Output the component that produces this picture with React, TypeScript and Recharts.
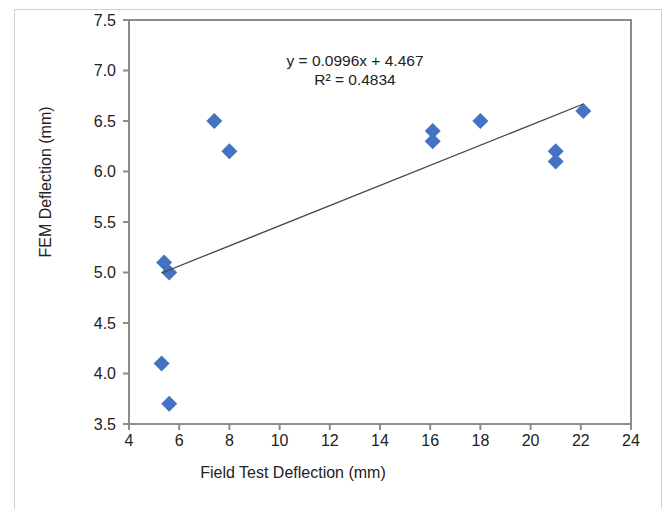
import { ScatterChart, Scatter, XAxis, YAxis, ReferenceArea } from 'recharts';

const fieldTest = [5.3, 5.6, 5.4, 5.6, 7.4, 8.0, 16.1, 16.1, 18.0, 21.0, 21.0, 22.1];
const femDeflection = [4.1, 3.7, 5.1, 5.0, 6.5, 6.2, 6.4, 6.3, 6.5, 6.2, 6.1, 6.6];
const xTicks = [4, 6, 8, 10, 12, 14, 16, 18, 20, 22, 24];
const yTicks = [3.5, 4.0, 4.5, 5.0, 5.5, 6.0, 6.5, 7.0, 7.5];
const slope = 0.0996;
const intercept = 4.467;
const trendFrom = 5.3;
const trendTo = 22.1;

const points = fieldTest.map((x, i) => ({ x, y: femDeflection[i] }));
const trend = [trendFrom, trendTo].map((x) => ({ x, y: slope * x + intercept }));

const font = '"Liberation Sans", Arial, sans-serif';
const axisGray = '#8c8c8c';

const Diamond = (props: any) => {
  const { cx, cy } = props;
  const r = 8;
  return (
    <polygon
      points={`${cx},${cy - r} ${cx + r},${cy} ${cx},${cy + r} ${cx - r},${cy}`}
      fill="#4472C4"
    />
  );
};

const NoDot = () => <g />;

export default function App() {
  return (
    <div style={{ position: 'absolute', left: 0, top: 0, width: 663, height: 509, overflow: 'hidden', background: '#fff' }}>
      <div
        style={{
          position: 'absolute', left: 14, top: 9, width: 646, height: 540,
          borderTop: '1.5px solid #d0d0d0', borderLeft: '1.5px solid #d0d0d0', borderRight: '1.5px solid #d0d0d0',
        }}
      />
      <ScatterChart width={663} height={509} margin={{ top: 20, right: 32, bottom: 55, left: 0 }}>
        <XAxis
          type="number"
          dataKey="x"
          domain={[4, 24]}
          ticks={xTicks}
          allowDataOverflow
          height={30}
          stroke={axisGray}
          strokeWidth={2}
          tickSize={6}
          tickMargin={5}
          tick={{ fill: '#222', fontSize: 16, fontFamily: font }}
        />
        <YAxis
          type="number"
          dataKey="y"
          domain={[3.5, 7.5]}
          ticks={yTicks}
          allowDataOverflow
          width={129}
          stroke={axisGray}
          strokeWidth={2}
          tickSize={6}
          tickMargin={7}
          tickFormatter={(v: number) => v.toFixed(1)}
          tick={{ fill: '#222', fontSize: 16, fontFamily: font }}
        />
        <ReferenceArea x1={4} x2={24} y1={3.5} y2={7.5} fill="none" stroke={axisGray} strokeWidth={2} />
        <Scatter data={points} shape={<Diamond />} isAnimationActive={false} />
        <Scatter
          data={trend}
          line={{ stroke: '#444', strokeWidth: 1.3 }}
          shape={<NoDot />}
          isAnimationActive={false}
        />
      </ScatterChart>
      <svg width={663} height={509} style={{ position: 'absolute', left: 0, top: 0, pointerEvents: 'none' }}>
        <g fontFamily={font} fill="#222" textAnchor="middle">
          <text x={355} y={66} fontSize={15.5}>y = 0.0996x + 4.467</text>
          <text x={355} y={85} fontSize={15.5}>R² = 0.4834</text>
          <text x={293} y={478} fontSize={16}>Field Test Deflection (mm)</text>
          <text x={0} y={0} fontSize={16} transform="translate(51,182) rotate(-90)">FEM Deflection (mm)</text>
        </g>
      </svg>
    </div>
  );
}
